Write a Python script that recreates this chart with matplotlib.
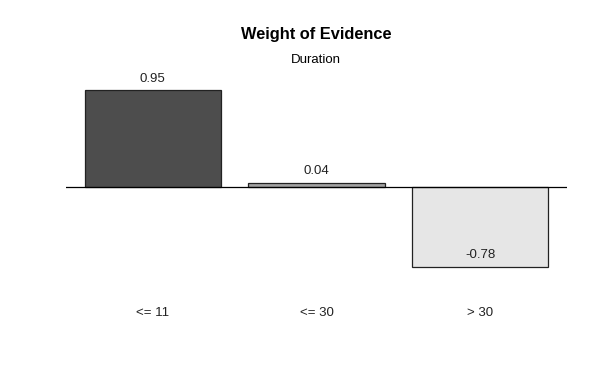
import matplotlib.pyplot as plt
from matplotlib.transforms import blended_transform_factory

plt.rcParams['font.family'] = ['Liberation Sans', 'DejaVu Sans']

# data
categories = ["<= 11", "<= 30", "> 30"]
woe = [0.95, 0.04, -0.78]
bar_colors = ["#4D4D4D", "#A3A3A3", "#E6E6E6"]

W, H = 600, 368
fig = plt.figure(figsize=(W / 100, H / 100), dpi=100)

# plot region in pixels (R-style barplot)
left, right, top, bottom = 66, 567, 80, 290
ax = fig.add_axes([left / W, 1 - bottom / H, (right - left) / W, (bottom - top) / H])

# R barplot positions: width 1, space 0.2
x = [0.2 + i * 1.2 + 0.5 for i in range(len(woe))]
ax.bar(x, woe, width=1.0, color=bar_colors, edgecolor="#222222", linewidth=0.9, zorder=2)
ax.axhline(0, color="black", linewidth=0.9, zorder=3)

span = 3.4
ax.set_xlim(0.2 - 0.04 * span, 3.6 + 0.04 * span)
px_per_unit = 102
ax.set_ylim(-(bottom - 187) / px_per_unit, (187 - top) / px_per_unit)
ax.axis("off")

for xi, v in zip(x, woe):
    ax.annotate(f"{v:.2f}", (xi, v), xytext=(0, 4), textcoords="offset points",
                ha="center", va="bottom", fontsize=9.5, color="#222222")

tr = blended_transform_factory(ax.transData, fig.transFigure)
for xi, lab in zip(x, categories):
    ax.text(xi, 1 - 313 / H, lab, transform=tr, ha="center", va="center",
            fontsize=9.5, color="#222222")

fig.text(316 / W, 1 - 35 / H, "Weight of Evidence", ha="center", va="center",
         fontsize=11.8, fontweight="bold")
fig.text(316 / W, 1 - 60 / H, "Duration", ha="center", va="center", fontsize=9.5)

fig.savefig("out.png", dpi=100, facecolor="white")
